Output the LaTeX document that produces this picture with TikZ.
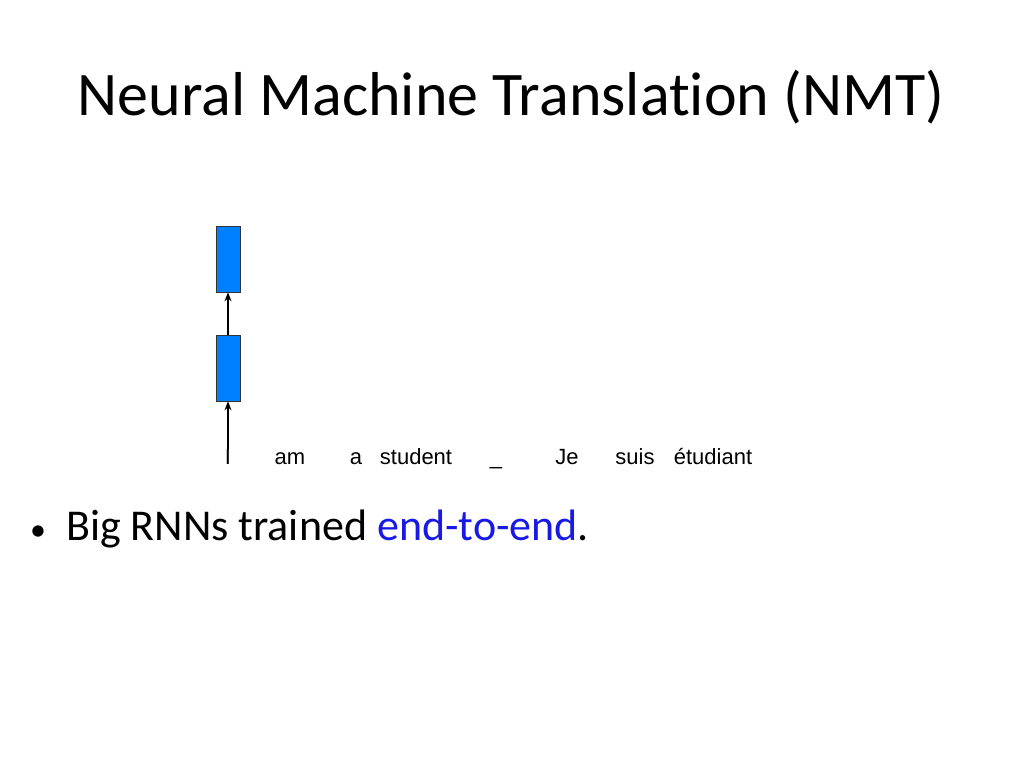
\documentclass[tikz,border=0pt]{standalone}
\usepackage{fontspec}
\setmainfont[Ligatures=NoCommon]{Carlito}
\newfontfamily\arial{Liberation Sans}
\usetikzlibrary{arrows.meta}
\begin{document}
\begin{tikzpicture}[x=1pt,y=-1pt,
  cell/.style={draw=black!80,fill={rgb,255:red,0;green,128;blue,255},minimum width=24pt,minimum height=66pt,inner sep=0pt,line width=0.6pt},
  word/.style={font=\arial\fontsize{22}{26}\selectfont,inner sep=0pt,anchor=base},
  conn/.style={-{Stealth[length=9pt,width=7pt]},line width=1.4pt}]
\useasboundingbox (0,0) rectangle (1024,768);
\node[font=\fontsize{62}{68}\selectfont] (title) at (511,97) {Neural Machine Translation (NMT)};
\node[cell] (h2) at (228,259) {};
\node[cell] (h1) at (228,368) {};
\node[word] (w1) at (228,464) {I};
\node[word] (w2) at (290,464) {am};
\node[word] (w3) at (356,464) {a};
\node[word] (w4) at (416,464) {student};
\node[word] (w5) at (496,464) {\_};
\node[word] (w6) at (567,464) {Je};
\node[word] (w7) at (635,464) {suis};
\node[word] (w8) at (713,464) {étudiant};
\draw[conn] (w1.north) -- (h1.south);
\draw[conn] (h1.north) -- (h2.south);
\node[font=\fontsize{44}{48}\selectfont,anchor=base west,inner sep=0pt] (b) at (30,540) {{\fontsize{32}{36}\selectfont\textbullet}\hspace{20pt}Big RNNs trained \textcolor[rgb]{0.1,0.1,0.9}{end-to-end}.};
\end{tikzpicture}
\end{document}
